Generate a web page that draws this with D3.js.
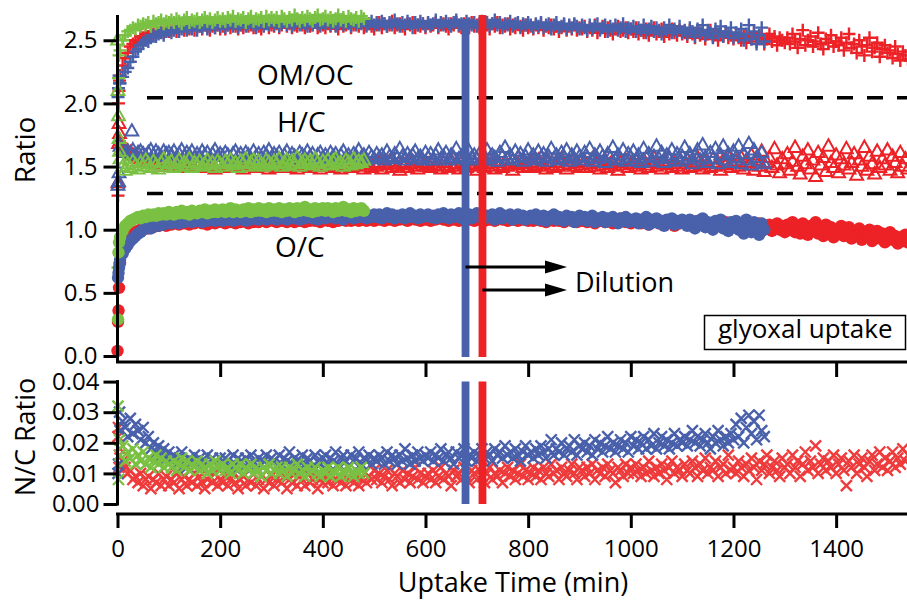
<!DOCTYPE html>
<html><head><meta charset="utf-8">
<script src="https://cdn.jsdelivr.net/npm/d3@7/dist/d3.min.js"></script>
<style>
body{margin:0;background:#fff}
svg{display:block}
text{font-family:'Open Sans','DejaVu Sans',sans-serif;fill:#000}
</style>
</head><body>
<svg id="chart" width="907" height="600"></svg>
<script>
// ---------------- DATA ----------------
const STEP = 5; // minutes between samples of the main arrays (first sample at t = STEP)
const xTicks = [0, 200, 400, 600, 800, 1000, 1200, 1400];
const yTopTicks = [0.0, 0.5, 1.0, 1.5, 2.0, 2.5];
const yBotTicks = [0.00, 0.01, 0.02, 0.03, 0.04];
const separators = [2.044, 1.287];          // dashed lines between OM/OC, H/C, O/C
const dilutionTimes = [678, 711];            // blue run, red run

// OM/OC  (+ markers)
const earlyOmocRedT = [1, 2, 3, 4],   earlyOmocRed = [1.27, 2.00, 2.10, 2.18];
const earlyOmocBlueT = [1, 2, 3, 4],  earlyOmocBlue = [2.05, 2.12, 2.22, 2.16];
const earlyOmocGreenT = [1, 2, 3],    earlyOmocGreen = [0.70, 2.20, 2.38];
const omocRed = [
 2.22,2.30,2.36,2.40,2.45,2.47,2.50,2.49,2.53,2.52,2.55,2.53,2.56,2.55,2.57,2.56,2.58,2.56,2.59,2.57,
 2.58,2.60,2.57,2.59,2.61,2.58,2.60,2.59,2.62,2.58,2.60,2.61,2.59,2.62,2.60,2.58,2.61,2.60,2.62,2.59,
 2.61,2.59,2.62,2.60,2.63,2.61,2.59,2.62,2.60,2.63,2.61,2.62,2.60,2.63,2.61,2.59,2.62,2.64,2.60,2.62,
 2.61,2.63,2.60,2.62,2.64,2.61,2.63,2.60,2.62,2.61,2.64,2.62,2.60,2.63,2.61,2.62,2.64,2.60,2.63,2.62,
 2.60,2.63,2.61,2.64,2.62,2.59,2.63,2.61,2.62,2.64,2.60,2.62,2.63,2.61,2.64,2.60,2.62,2.63,2.61,2.59,
 2.62,2.64,2.60,2.63,2.61,2.62,2.65,2.60,2.62,2.63,2.61,2.59,2.63,2.62,2.64,2.60,2.62,2.61,2.63,2.60,
 2.63,2.61,2.62,2.64,2.60,2.62,2.63,2.61,2.59,2.63,2.62,2.64,2.61,2.60,2.63,2.62,2.60,2.64,2.61,2.62,
 2.60,2.63,2.61,2.62,2.59,2.63,2.61,2.64,2.60,2.62,2.61,2.63,2.59,2.62,2.60,2.63,2.61,2.58,2.62,2.60,
 2.61,2.59,2.62,2.60,2.63,2.58,2.61,2.60,2.62,2.59,2.61,2.57,2.60,2.62,2.58,2.61,2.59,2.62,2.58,2.60,
 2.59,2.61,2.57,2.60,2.58,2.62,2.56,2.59,2.61,2.57,2.60,2.58,2.55,2.59,2.61,2.57,2.58,2.60,2.56,2.59,
 2.57,2.60,2.55,2.58,2.56,2.59,2.54,2.58,2.60,2.55,2.57,2.59,2.53,2.57,2.55,2.59,2.56,2.54,2.58,2.55,
 2.56,2.53,2.58,2.55,2.52,2.57,2.54,2.56,2.51,2.55,2.58,2.53,2.55,2.50,2.56,2.53,2.57,2.52,2.54,2.51,
 2.55,2.52,2.50,2.54,2.48,2.53,2.51,2.56,2.49,2.52,2.54,2.47,2.51,2.55,2.49,2.53,2.46,2.52,2.50,2.48,
 2.52,2.47,2.55,2.49,2.44,2.51,2.58,2.46,2.50,2.53,2.45,2.49,2.56,2.47,2.43,2.51,2.48,2.54,2.45,2.49,
 2.46,2.52,2.42,2.48,2.55,2.44,2.47,2.40,2.50,2.45,2.38,2.46,2.52,2.41,2.44,2.48,2.37,2.43,2.46,2.40,
 2.42,2.36,2.45,2.39,2.34,2.41,2.38,2.35];
const omocBlue = [
 2.16,2.21,2.25,2.28,2.33,2.37,2.41,2.43,2.46,2.48,2.50,2.49,2.52,2.54,2.53,2.55,2.56,2.54,2.57,2.58,
 2.56,2.58,2.60,2.57,2.59,2.61,2.58,2.60,2.59,2.62,2.58,2.61,2.60,2.62,2.59,2.61,2.63,2.60,2.62,2.61,
 2.63,2.60,2.62,2.64,2.61,2.63,2.60,2.62,2.64,2.61,2.63,2.65,2.62,2.60,2.63,2.64,2.61,2.63,2.62,2.65,
 2.62,2.64,2.61,2.63,2.65,2.62,2.64,2.61,2.63,2.66,2.62,2.64,2.63,2.61,2.65,2.62,2.64,2.63,2.61,2.64,
 2.63,2.65,2.62,2.64,2.61,2.63,2.66,2.62,2.64,2.63,2.61,2.65,2.62,2.64,2.63,2.66,2.61,2.63,2.65,2.62,
 2.64,2.62,2.65,2.63,2.61,2.64,2.62,2.66,2.63,2.61,2.64,2.62,2.65,2.63,2.60,2.64,2.62,2.65,2.63,2.61,
 2.64,2.62,2.63,2.66,2.61,2.64,2.62,2.65,2.63,2.61,2.64,2.66,2.62,2.63,2.61,2.65,2.63,2.62,2.64,2.61,
 2.63,2.65,2.62,2.64,2.61,2.63,2.66,2.62,2.64,2.60,2.63,2.62,2.65,2.61,2.63,2.64,2.60,2.63,2.62,2.64,
 2.62,2.60,2.63,2.61,2.64,2.60,2.62,2.63,2.59,2.62,2.64,2.60,2.61,2.63,2.59,2.62,2.60,2.63,2.61,2.59,
 2.62,2.60,2.58,2.62,2.59,2.61,2.63,2.58,2.60,2.62,2.57,2.61,2.59,2.62,2.58,2.60,2.63,2.57,2.60,2.59,
 2.61,2.57,2.60,2.58,2.62,2.56,2.59,2.61,2.57,2.60,2.58,2.55,2.60,2.58,2.62,2.56,2.59,2.57,2.61,2.56,
 2.58,2.55,2.60,2.57,2.53,2.59,2.56,2.62,2.54,2.58,2.56,2.52,2.59,2.55,2.61,2.53,2.57,2.55,2.60,2.52,
 2.56,2.53,2.59,2.50,2.55,2.62,2.51,2.57,2.47,2.54,2.60,2.49];
const omocGreen = [
 2.42,2.50,2.54,2.57,2.58,2.60,2.59,2.62,2.61,2.63,2.62,2.64,2.61,2.65,2.63,2.64,2.66,2.63,2.65,2.64,
 2.66,2.64,2.67,2.65,2.63,2.66,2.68,2.64,2.66,2.65,2.67,2.64,2.66,2.68,2.65,2.67,2.64,2.66,2.68,2.65,
 2.67,2.65,2.68,2.66,2.69,2.65,2.67,2.66,2.68,2.64,2.67,2.69,2.65,2.67,2.66,2.68,2.65,2.69,2.66,2.68,
 2.66,2.68,2.65,2.69,2.67,2.65,2.68,2.66,2.70,2.67,2.65,2.68,2.66,2.69,2.67,2.65,2.68,2.70,2.66,2.67,
 2.69,2.66,2.68,2.65,2.67,2.70,2.66,2.68,2.65,2.69,2.67,2.66,2.68,2.65,2.69,2.67];

// H/C  (open triangles)
const earlyHcRedT = [1, 2, 3, 4],      earlyHcRed = [1.37, 1.68, 1.84, 1.76];
const earlyHcBlueT = [1, 2, 3, 28],    earlyHcBlue = [1.35, 1.38, 1.45, 1.78];
const earlyHcGreenT = [0, 1, 2, 3, 4], earlyHcGreen = [2.50, 2.10, 1.90, 1.72, 1.62];
const hcRed = [
 1.70,1.66,1.64,1.62,1.61,1.59,1.58,1.56,1.57,1.54,1.55,1.53,1.56,1.52,1.54,1.51,1.55,1.53,1.50,1.54,
 1.52,1.50,1.54,1.51,1.53,1.49,1.52,1.55,1.50,1.53,1.51,1.54,1.49,1.52,1.50,1.53,1.51,1.48,1.52,1.54,
 1.50,1.53,1.51,1.49,1.52,1.54,1.50,1.52,1.48,1.53,1.51,1.50,1.54,1.49,1.52,1.50,1.53,1.51,1.48,1.52,
 1.51,1.49,1.53,1.50,1.52,1.54,1.49,1.51,1.53,1.48,1.52,1.50,1.54,1.51,1.49,1.53,1.50,1.52,1.48,1.51,
 1.53,1.50,1.52,1.49,1.54,1.51,1.48,1.52,1.50,1.53,1.49,1.51,1.54,1.50,1.52,1.48,1.53,1.51,1.49,1.52,
 1.50,1.53,1.48,1.52,1.51,1.54,1.49,1.52,1.50,1.47,1.53,1.51,1.49,1.52,1.54,1.50,1.48,1.53,1.51,1.50,
 1.52,1.49,1.54,1.50,1.51,1.48,1.53,1.51,1.49,1.55,1.50,1.52,1.48,1.53,1.51,1.49,1.54,1.50,1.52,1.47,
 1.51,1.53,1.49,1.52,1.55,1.50,1.48,1.53,1.51,1.49,1.54,1.50,1.52,1.47,1.53,1.51,1.55,1.49,1.52,1.50,
 1.53,1.49,1.51,1.55,1.50,1.52,1.48,1.54,1.51,1.49,1.53,1.50,1.56,1.51,1.48,1.52,1.54,1.50,1.53,1.49,
 1.51,1.54,1.49,1.52,1.56,1.50,1.53,1.48,1.51,1.55,1.49,1.52,1.54,1.50,1.47,1.53,1.51,1.55,1.49,1.52,
 1.54,1.50,1.52,1.48,1.55,1.51,1.49,1.53,1.57,1.50,1.52,1.48,1.54,1.51,1.56,1.49,1.52,1.50,1.54,1.48,
 1.52,1.55,1.49,1.53,1.50,1.57,1.51,1.48,1.54,1.52,1.49,1.56,1.50,1.53,1.47,1.55,1.51,1.58,1.49,1.52,
 1.54,1.50,1.57,1.48,1.53,1.51,1.59,1.47,1.55,1.50,1.62,1.46,1.53,1.57,1.49,1.64,1.51,1.45,1.56,1.52,
 1.60,1.47,1.54,1.65,1.50,1.44,1.58,1.52,1.63,1.48,1.55,1.42,1.61,1.51,1.57,1.46,1.66,1.53,1.49,1.59,
 1.45,1.56,1.51,1.64,1.48,1.53,1.60,1.43,1.55,1.50,1.65,1.47,1.58,1.52,1.44,1.62,1.49,1.56,1.51,1.63,
 1.47,1.58,1.53,1.45,1.61,1.50,1.56,1.48];
const hcBlue = [
 1.66,1.63,1.61,1.62,1.60,1.63,1.59,1.61,1.62,1.60,1.58,1.61,1.63,1.59,1.62,1.60,1.58,1.62,1.60,1.61,
 1.59,1.62,1.57,1.60,1.63,1.58,1.61,1.59,1.62,1.57,1.60,1.58,1.62,1.59,1.61,1.57,1.60,1.63,1.58,1.60,
 1.58,1.61,1.59,1.56,1.60,1.62,1.58,1.60,1.57,1.61,1.59,1.56,1.62,1.58,1.60,1.57,1.61,1.59,1.63,1.57,
 1.60,1.58,1.61,1.56,1.59,1.62,1.57,1.60,1.58,1.55,1.61,1.59,1.57,1.62,1.58,1.60,1.56,1.59,1.61,1.57,
 1.59,1.56,1.61,1.58,1.60,1.55,1.59,1.62,1.57,1.59,1.56,1.60,1.58,1.63,1.57,1.59,1.55,1.61,1.58,1.56,
 1.60,1.57,1.59,1.55,1.62,1.58,1.56,1.60,1.57,1.64,1.58,1.55,1.60,1.57,1.59,1.62,1.56,1.58,1.55,1.61,
 1.57,1.60,1.55,1.59,1.63,1.56,1.58,1.61,1.55,1.59,1.57,1.64,1.56,1.58,1.60,1.55,1.62,1.57,1.59,1.56,
 1.60,1.55,1.58,1.63,1.56,1.59,1.57,1.54,1.61,1.58,1.65,1.56,1.59,1.55,1.62,1.57,1.60,1.54,1.58,1.63,
 1.56,1.59,1.55,1.62,1.57,1.60,1.54,1.58,1.64,1.56,1.59,1.55,1.61,1.57,1.63,1.54,1.59,1.56,1.62,1.58,
 1.55,1.61,1.57,1.64,1.54,1.59,1.56,1.62,1.58,1.53,1.60,1.57,1.65,1.55,1.59,1.56,1.63,1.54,1.60,1.57,
 1.62,1.55,1.59,1.53,1.64,1.57,1.60,1.54,1.58,1.66,1.56,1.61,1.53,1.59,1.57,1.63,1.55,1.60,1.54,1.58,
 1.65,1.56,1.60,1.52,1.58,1.63,1.55,1.67,1.57,1.53,1.61,1.56,1.64,1.52,1.59,1.66,1.55,1.60,1.53,1.62,
 1.57,1.66,1.52,1.60,1.55,1.68,1.51,1.63,1.57,1.54,1.61,1.52];
const hcGreen = [
 1.56,1.50,1.47,1.52,1.49,1.54,1.51,1.48,1.53,1.50,1.55,1.52,1.49,1.54,1.51,1.48,1.53,1.56,1.50,1.52,
 1.54,1.49,1.52,1.55,1.50,1.53,1.51,1.56,1.49,1.53,1.51,1.54,1.50,1.52,1.55,1.51,1.53,1.49,1.54,1.52,
 1.50,1.54,1.52,1.55,1.51,1.53,1.49,1.54,1.52,1.56,1.50,1.53,1.55,1.51,1.54,1.52,1.50,1.55,1.53,1.51,
 1.54,1.52,1.56,1.50,1.53,1.55,1.51,1.54,1.52,1.57,1.50,1.53,1.55,1.52,1.54,1.51,1.56,1.53,1.50,1.54,
 1.52,1.55,1.51,1.54,1.56,1.52,1.53,1.50,1.55,1.53,1.51,1.56,1.52,1.54,1.53,1.55];

// O/C  (filled circles)
const earlyOcRedT = [0, 1, 2, 3],     earlyOcRed = [0.04, 0.27, 0.36, 0.54];
const earlyOcBlueT = [1, 2, 3, 4],    earlyOcBlue = [0.62, 0.66, 0.70, 0.73];
const earlyOcGreenT = [1, 2, 3],      earlyOcGreen = [0.29, 0.82, 0.90];
const ocRed = [
 0.74,0.84,0.89,0.92,0.95,0.97,0.98,0.99,1.00,1.01,1.02,1.01,1.03,1.02,1.04,1.03,1.04,1.05,1.03,1.05,
 1.04,1.06,1.05,1.04,1.06,1.05,1.07,1.04,1.06,1.05,1.07,1.06,1.05,1.07,1.04,1.06,1.07,1.05,1.06,1.08,
 1.06,1.05,1.07,1.06,1.08,1.05,1.07,1.06,1.08,1.07,1.05,1.07,1.06,1.08,1.06,1.07,1.09,1.06,1.07,1.08,
 1.07,1.06,1.08,1.07,1.09,1.06,1.08,1.07,1.06,1.08,1.07,1.09,1.06,1.08,1.07,1.09,1.07,1.08,1.06,1.08,
 1.08,1.07,1.09,1.06,1.08,1.07,1.09,1.08,1.07,1.10,1.07,1.08,1.09,1.07,1.08,1.10,1.07,1.09,1.08,1.07,
 1.09,1.08,1.10,1.07,1.09,1.08,1.10,1.07,1.09,1.08,1.10,1.08,1.07,1.09,1.10,1.08,1.09,1.07,1.10,1.08,
 1.09,1.07,1.10,1.08,1.09,1.11,1.08,1.09,1.07,1.10,1.08,1.09,1.07,1.10,1.08,1.11,1.08,1.09,1.07,1.10,
 1.08,1.10,1.07,1.09,1.08,1.10,1.07,1.09,1.11,1.08,1.09,1.07,1.10,1.08,1.09,1.07,1.10,1.08,1.09,1.07,
 1.09,1.07,1.08,1.10,1.07,1.09,1.06,1.08,1.09,1.07,1.10,1.07,1.08,1.06,1.09,1.08,1.07,1.09,1.06,1.08,
 1.07,1.09,1.06,1.08,1.07,1.05,1.08,1.07,1.09,1.06,1.08,1.07,1.05,1.08,1.06,1.09,1.07,1.06,1.08,1.05,
 1.07,1.06,1.08,1.05,1.07,1.06,1.04,1.07,1.06,1.08,1.05,1.07,1.04,1.06,1.07,1.05,1.03,1.06,1.05,1.07,
 1.05,1.04,1.06,1.03,1.05,1.07,1.04,1.06,1.03,1.05,1.04,1.02,1.06,1.04,1.05,1.03,1.06,1.02,1.04,1.03,
 1.05,1.02,1.04,1.01,1.06,1.03,1.00,1.04,1.02,1.05,0.99,1.03,1.01,1.04,0.99,1.02,1.05,1.00,1.03,0.98,
 1.04,1.00,1.06,0.98,1.02,0.97,1.05,1.00,0.96,1.03,0.99,1.06,0.97,1.01,0.95,1.04,0.98,1.02,0.94,1.00,
 0.97,1.03,0.95,0.99,1.02,0.93,0.98,0.96,1.01,0.92,0.97,0.95,1.00,0.91,0.96,0.99,0.93,0.97,0.90,0.95,
 0.98,0.92,0.95,0.89,0.94,0.91,0.96,0.90];
const ocBlue = [
 0.76,0.81,0.85,0.88,0.91,0.93,0.95,0.97,0.98,1.00,1.01,1.02,1.01,1.03,1.04,1.03,1.05,1.04,1.05,1.06,
 1.05,1.06,1.07,1.05,1.07,1.06,1.08,1.07,1.06,1.08,1.07,1.09,1.06,1.08,1.07,1.09,1.08,1.07,1.09,1.08,
 1.07,1.09,1.08,1.10,1.07,1.09,1.08,1.10,1.09,1.07,1.10,1.08,1.09,1.11,1.08,1.10,1.09,1.08,1.10,1.09,
 1.11,1.08,1.10,1.09,1.11,1.08,1.10,1.12,1.09,1.10,1.08,1.11,1.09,1.10,1.12,1.09,1.11,1.08,1.10,1.11,
 1.09,1.11,1.10,1.12,1.09,1.11,1.10,1.08,1.12,1.10,1.11,1.09,1.12,1.10,1.11,1.13,1.09,1.11,1.10,1.12,
 1.10,1.12,1.09,1.11,1.13,1.10,1.12,1.09,1.11,1.10,1.12,1.09,1.11,1.13,1.10,1.11,1.09,1.12,1.10,1.11,
 1.12,1.10,1.11,1.09,1.12,1.10,1.13,1.11,1.09,1.12,1.10,1.11,1.13,1.09,1.11,1.10,1.12,1.09,1.11,1.13,
 1.10,1.12,1.09,1.11,1.10,1.12,1.08,1.11,1.13,1.09,1.11,1.10,1.12,1.08,1.10,1.12,1.09,1.11,1.08,1.10,
 1.11,1.09,1.12,1.08,1.10,1.11,1.07,1.10,1.09,1.12,1.08,1.10,1.09,1.07,1.11,1.09,1.10,1.06,1.09,1.11,
 1.08,1.10,1.07,1.09,1.11,1.06,1.09,1.08,1.10,1.06,1.09,1.07,1.10,1.08,1.05,1.09,1.07,1.10,1.06,1.08,
 1.07,1.09,1.05,1.08,1.06,1.10,1.04,1.08,1.06,1.09,1.05,1.07,1.03,1.08,1.06,1.09,1.04,1.07,1.05,1.08,
 1.06,1.03,1.08,1.05,1.01,1.07,1.04,1.09,1.02,1.06,1.04,1.00,1.07,1.03,1.08,1.01,1.05,0.99,1.06,1.03,
 1.07,1.00,1.04,0.97,1.08,1.02,0.98,1.06,1.01,0.96,1.05,1.00];
const ocGreen = [
 0.94,0.99,1.03,1.05,1.07,1.08,1.09,1.10,1.09,1.11,1.10,1.12,1.11,1.12,1.11,1.13,1.12,1.13,1.12,1.14,
 1.13,1.12,1.14,1.13,1.15,1.13,1.14,1.12,1.15,1.14,1.13,1.15,1.14,1.16,1.13,1.15,1.14,1.16,1.14,1.15,
 1.16,1.14,1.15,1.17,1.14,1.16,1.15,1.14,1.16,1.15,1.17,1.14,1.16,1.15,1.17,1.15,1.16,1.14,1.17,1.15,
 1.16,1.15,1.17,1.14,1.16,1.15,1.17,1.16,1.14,1.17,1.15,1.16,1.18,1.15,1.16,1.14,1.17,1.15,1.16,1.17,
 1.15,1.17,1.16,1.14,1.17,1.15,1.16,1.18,1.15,1.16,1.14,1.17,1.15,1.16,1.17,1.15];

// N/C  (x markers)
const earlyNcRedT = [1, 2, 3, 4],     earlyNcRed = [0.022, 0.025, 0.012, 0.016];
const earlyNcBlueT = [1, 2, 4],       earlyNcBlue = [0.010, 0.013, 0.030];
const earlyNcGreenT = [1, 2, 4],      earlyNcGreen = [0.032, 0.008, 0.021];
const ncRed = [
 0.018,0.014,0.012,0.010,0.011,0.008,0.009,0.007,0.010,0.006,0.008,0.009,0.005,0.008,0.007,0.010,0.006,0.008,0.009,0.006,
 0.008,0.007,0.010,0.005,0.008,0.009,0.006,0.008,0.007,0.010,0.006,0.009,0.007,0.005,0.008,0.009,0.007,0.010,0.006,0.008,
 0.007,0.009,0.006,0.008,0.010,0.007,0.005,0.008,0.009,0.006,0.008,0.007,0.010,0.006,0.008,0.009,0.005,0.008,0.007,0.009,
 0.006,0.008,0.010,0.007,0.009,0.005,0.008,0.007,0.010,0.006,0.009,0.008,0.006,0.010,0.007,0.008,0.009,0.005,0.008,0.007,
 0.009,0.007,0.010,0.006,0.008,0.009,0.007,0.011,0.006,0.008,0.010,0.007,0.009,0.006,0.008,0.010,0.007,0.009,0.008,0.011,
 0.008,0.010,0.007,0.009,0.011,0.008,0.006,0.010,0.009,0.007,0.011,0.008,0.010,0.007,0.009,0.012,0.008,0.010,0.007,0.009,
 0.010,0.008,0.011,0.007,0.009,0.012,0.008,0.010,0.009,0.006,0.011,0.009,0.010,0.008,0.012,0.009,0.007,0.011,0.010,0.008,
 0.011,0.009,0.007,0.010,0.012,0.008,0.010,0.009,0.011,0.007,0.010,0.012,0.009,0.011,0.008,0.010,0.013,0.009,0.011,0.008,
 0.010,0.012,0.009,0.011,0.008,0.012,0.010,0.009,0.013,0.010,0.011,0.008,0.012,0.010,0.009,0.011,0.013,0.010,0.008,0.012,
 0.011,0.009,0.012,0.010,0.013,0.008,0.011,0.010,0.012,0.009,0.013,0.011,0.010,0.007,0.012,0.011,0.009,0.013,0.010,0.012,
 0.010,0.013,0.011,0.009,0.012,0.010,0.014,0.011,0.009,0.012,0.010,0.013,0.011,0.008,0.012,0.014,0.010,0.012,0.011,0.009,
 0.013,0.011,0.010,0.014,0.012,0.009,0.013,0.011,0.015,0.010,0.012,0.011,0.014,0.009,0.012,0.013,0.010,0.016,0.011,0.012,
 0.010,0.014,0.012,0.009,0.013,0.011,0.015,0.012,0.008,0.014,0.011,0.013,0.016,0.010,0.012,0.014,0.011,0.009,0.015,0.012,
 0.013,0.010,0.016,0.012,0.014,0.009,0.013,0.017,0.011,0.014,0.012,0.019,0.010,0.013,0.015,0.011,0.014,0.012,0.016,0.010,
 0.013,0.015,0.011,0.006,0.014,0.012,0.016,0.010,0.013,0.015,0.012,0.009,0.014,0.016,0.011,0.013,0.017,0.012,0.015,0.011,
 0.014,0.017,0.012,0.015,0.013,0.018,0.014,0.016];
const ncBlue = [
 0.024,0.027,0.025,0.022,0.028,0.023,0.026,0.024,0.021,0.025,0.020,0.022,0.018,0.020,0.017,0.019,0.016,0.018,0.015,0.017,
 0.014,0.016,0.013,0.015,0.017,0.014,0.012,0.015,0.014,0.016,0.013,0.015,0.012,0.014,0.016,0.013,0.015,0.014,0.012,0.015,
 0.013,0.015,0.014,0.012,0.016,0.013,0.015,0.014,0.012,0.015,0.013,0.016,0.014,0.012,0.015,0.013,0.014,0.016,0.013,0.015,
 0.014,0.012,0.016,0.013,0.015,0.014,0.017,0.013,0.015,0.012,0.014,0.016,0.013,0.015,0.014,0.012,0.016,0.014,0.013,0.015,
 0.016,0.013,0.015,0.014,0.017,0.013,0.015,0.016,0.014,0.012,0.016,0.014,0.015,0.017,0.013,0.015,0.014,0.016,0.013,0.015,
 0.014,0.016,0.015,0.013,0.017,0.014,0.016,0.015,0.013,0.016,0.014,0.018,0.015,0.013,0.016,0.014,0.017,0.015,0.014,0.016,
 0.015,0.017,0.014,0.016,0.015,0.018,0.014,0.016,0.017,0.015,0.013,0.017,0.015,0.016,0.018,0.014,0.016,0.015,0.017,0.014,
 0.016,0.018,0.015,0.017,0.016,0.014,0.018,0.016,0.017,0.015,0.019,0.016,0.017,0.015,0.018,0.016,0.014,0.017,0.019,0.016,
 0.017,0.015,0.018,0.016,0.019,0.017,0.015,0.018,0.021,0.016,0.018,0.017,0.020,0.016,0.018,0.019,0.017,0.021,0.016,0.019,
 0.018,0.020,0.017,0.019,0.016,0.021,0.018,0.020,0.017,0.019,0.022,0.018,0.020,0.017,0.019,0.021,0.018,0.020,0.017,0.022,
 0.019,0.021,0.018,0.020,0.022,0.018,0.021,0.019,0.023,0.018,0.020,0.022,0.019,0.021,0.018,0.020,0.023,0.019,0.021,0.020,
 0.022,0.019,0.021,0.024,0.020,0.022,0.019,0.021,0.023,0.020,0.018,0.022,0.020,0.024,0.021,0.019,0.022,0.020,0.023,0.021,
 0.026,0.022,0.028,0.020,0.025,0.029,0.023,0.027,0.021,0.029,0.024,0.022];
const ncGreen = [
 0.016,0.019,0.014,0.017,0.015,0.018,0.013,0.016,0.014,0.017,0.013,0.015,0.012,0.014,0.016,0.013,0.015,0.012,0.014,0.013,
 0.012,0.014,0.011,0.013,0.015,0.012,0.014,0.011,0.013,0.012,0.014,0.011,0.013,0.012,0.010,0.013,0.011,0.014,0.012,0.011,
 0.013,0.011,0.012,0.010,0.013,0.012,0.011,0.013,0.010,0.012,0.011,0.013,0.010,0.012,0.011,0.009,0.012,0.011,0.013,0.010,
 0.011,0.012,0.010,0.012,0.011,0.009,0.012,0.010,0.011,0.013,0.010,0.011,0.009,0.012,0.010,0.011,0.012,0.010,0.009,0.011,
 0.010,0.012,0.009,0.011,0.010,0.012,0.009,0.011,0.010,0.012,0.010,0.009,0.011,0.010,0.012,0.010];

const RED = '#ec2227', BLUE = '#4960ab', GREEN = '#7ac143', RED_NC = '#ee3b3c';

// ---------------- DRAWING ----------------
const svg = d3.select('#chart');
const x = d3.scaleLinear().domain([0, 1540]).range([117.5, 908]);
const yTop = d3.scaleLinear().domain([0, 2.7]).range([356, 15]);
const yBot = d3.scaleLinear().domain([0, 0.04]).range([504, 381.6]);

function series(earlyT, earlyV, mainV) {
  return earlyT.map((t, i) => ({t, v: earlyV[i]}))
    .concat(mainV.map((v, i) => ({t: STEP * (i + 1), v})));
}

const PLUS = 'M-6.5,0H6.5M0,-6.5V6.5';
const CROSS = 'M-5.5,-5.5L5.5,5.5M-5.5,5.5L5.5,-5.5';
const TRI = 'M0,-7L6.4,4.3L-6.4,4.3Z';

function drawPaths(data, y, d, color, sw) {
  svg.append('g').selectAll('path').data(data).join('path')
    .attr('transform', p => `translate(${x(p.t)},${y(p.v)})`)
    .attr('d', d)
    .attr('fill', 'none')
    .attr('stroke', color)
    .attr('stroke-width', sw);
}
function drawCircles(data, y, color) {
  svg.append('g').selectAll('circle').data(data).join('circle')
    .attr('cx', p => x(p.t)).attr('cy', p => y(p.v)).attr('r', 6.2)
    .attr('fill', color);
}

// OM/OC
drawPaths(series(earlyOmocRedT, earlyOmocRed, omocRed), yTop, PLUS, RED, 2.4);
drawPaths(series(earlyOmocBlueT, earlyOmocBlue, omocBlue), yTop, PLUS, BLUE, 2.4);
drawPaths(series(earlyOmocGreenT, earlyOmocGreen, omocGreen), yTop, PLUS, GREEN, 2.4);
// H/C
drawPaths(series(earlyHcRedT, earlyHcRed, hcRed), yTop, TRI, RED, 2);
drawPaths(series(earlyHcBlueT, earlyHcBlue, hcBlue), yTop, TRI, BLUE, 2);
drawPaths(series(earlyHcGreenT, earlyHcGreen, hcGreen), yTop, TRI, GREEN, 2);
// O/C
drawCircles(series(earlyOcRedT, earlyOcRed, ocRed), yTop, RED);
drawCircles(series(earlyOcBlueT, earlyOcBlue, ocBlue), yTop, BLUE);
drawCircles(series(earlyOcGreenT, earlyOcGreen, ocGreen), yTop, GREEN);
// N/C
drawPaths(series(earlyNcRedT, earlyNcRed, ncRed), yBot, CROSS, RED_NC, 2.4);
drawPaths(series(earlyNcBlueT, earlyNcBlue, ncBlue), yBot, CROSS, BLUE, 2.4);
drawPaths(series(earlyNcGreenT, earlyNcGreen, ncGreen), yBot, CROSS, GREEN, 2.4);

// dashed separators
svg.append('g').selectAll('line').data(separators).join('line')
  .attr('x1', 147).attr('x2', 907)
  .attr('y1', d => yTop(d)).attr('y2', d => yTop(d))
  .attr('stroke', '#000').attr('stroke-width', 3.5).attr('stroke-dasharray', '16,14');

// dilution lines
const dilColors = [BLUE, RED];
svg.append('g').selectAll('line').data(dilutionTimes).join('line')
  .attr('x1', d => x(d)).attr('x2', d => x(d))
  .attr('y1', (d, i) => i === 0 ? 19 : 15).attr('y2', 357)
  .attr('stroke', (d, i) => dilColors[i]).attr('stroke-width', 7.8);
svg.append('g').selectAll('line').data(dilutionTimes).join('line')
  .attr('x1', d => x(d)).attr('x2', d => x(d))
  .attr('y1', yBot(0.04)).attr('y2', yBot(0))
  .attr('stroke', (d, i) => dilColors[i]).attr('stroke-width', 7.8);

// arrows
const arrowY = [267, 290];
dilutionTimes.forEach((t, i) => {
  const x0 = x(t), tip = 567, yy = arrowY[i];
  svg.append('line').attr('x1', x0).attr('x2', tip - 18).attr('y1', yy).attr('y2', yy)
    .attr('stroke', '#000').attr('stroke-width', 3);
  svg.append('path').attr('d', `M${tip},${yy}L${tip - 22},${yy - 6.5}L${tip - 22},${yy + 6.5}Z`).attr('fill', '#000');
});

// axes
const AX = 3;
function styleAxis(g) {
  g.select('.domain').remove();
  g.selectAll('.tick line').attr('stroke', '#000').attr('stroke-width', AX);
  g.selectAll('.tick text').attr('font-size', 24).attr('fill', '#000')
    .attr('font-family', "'Open Sans','DejaVu Sans',sans-serif");
}
const gyT = svg.append('g').attr('transform', 'translate(117.5,0)')
  .call(d3.axisLeft(yTop).tickValues(yTopTicks).tickSize(14).tickPadding(6).tickFormat(d3.format('.1f')));
styleAxis(gyT);
svg.append('line').attr('x1', 117.5).attr('x2', 117.5).attr('y1', 15).attr('y2', 363)
  .attr('stroke', '#000').attr('stroke-width', AX);

const gxT = svg.append('g').attr('transform', 'translate(0,362)')
  .call(d3.axisBottom(x).tickValues(xTicks.filter(d => d > 0)).tickSize(15).tickFormat(''));
styleAxis(gxT);
svg.append('line').attr('x1', 116).attr('x2', 907).attr('y1', 362).attr('y2', 362)
  .attr('stroke', '#000').attr('stroke-width', AX);

const gyB = svg.append('g').attr('transform', 'translate(117.5,0)')
  .call(d3.axisLeft(yBot).tickValues(yBotTicks).tickSize(14).tickPadding(4).tickFormat(d3.format('.2f')));
styleAxis(gyB);
svg.append('line').attr('x1', 117.5).attr('x2', 117.5).attr('y1', yBot(0.04) - 1.5).attr('y2', yBot(0) + 1.5)
  .attr('stroke', '#000').attr('stroke-width', AX);

const gxB = svg.append('g').attr('transform', 'translate(0,514)')
  .call(d3.axisBottom(x).tickValues(xTicks).tickSize(14).tickPadding(12).tickFormat(d3.format('d')));
styleAxis(gxB);
svg.append('line').attr('x1', 116).attr('x2', 907).attr('y1', 514).attr('y2', 514)
  .attr('stroke', '#000').attr('stroke-width', AX);

// titles & labels
svg.append('text').attr('transform', 'translate(35,150) rotate(-90)').attr('text-anchor', 'middle')
  .attr('font-size', 28).text('Ratio');
svg.append('text').attr('transform', 'translate(35,437) rotate(-90)').attr('text-anchor', 'middle')
  .attr('font-size', 27).text('N/C Ratio');
svg.append('text').attr('x', 513).attr('y', 592).attr('text-anchor', 'middle')
  .attr('font-size', 27).text('Uptake Time (min)');

svg.append('text').attr('x', 257).attr('y', 85).attr('font-size', 28).text('OM/OC');
svg.append('text').attr('x', 277).attr('y', 132).attr('font-size', 28).text('H/C');
svg.append('text').attr('x', 275).attr('y', 257).attr('font-size', 28).text('O/C');
svg.append('text').attr('x', 575).attr('y', 292).attr('font-size', 27).text('Dilution');

svg.append('rect').attr('x', 704.5).attr('y', 315.5).attr('width', 201).attr('height', 34)
  .attr('fill', '#fff').attr('stroke', '#000').attr('stroke-width', 1.5);
svg.append('text').attr('x', 718).attr('y', 338).attr('font-size', 26).text('glyoxal uptake');
</script>
</body></html>
